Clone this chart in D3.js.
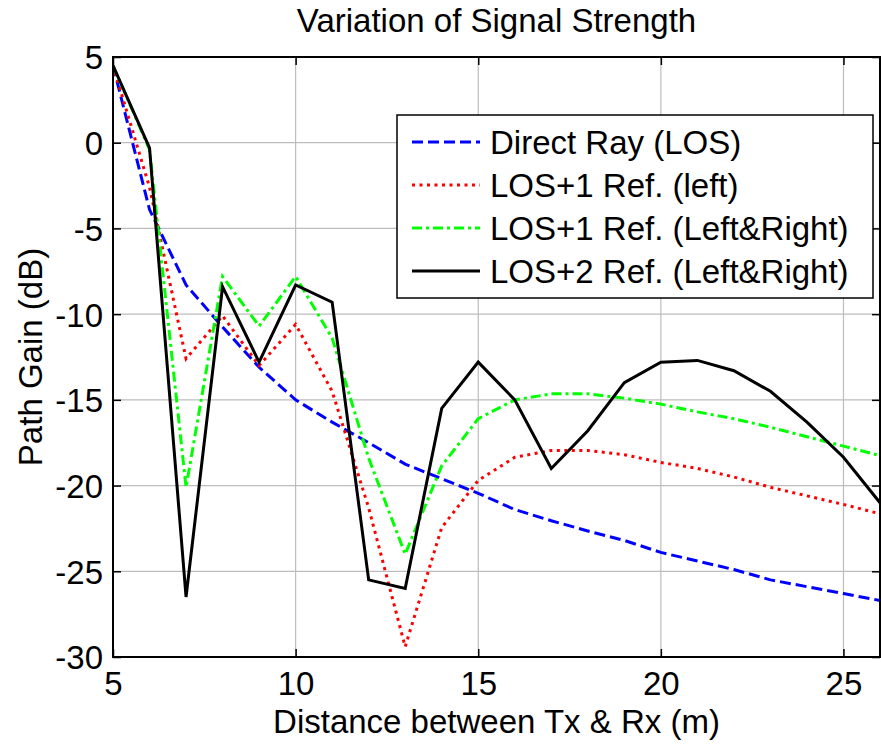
<!DOCTYPE html>
<html>
<head>
<meta charset="utf-8">
<script src="https://cdn.jsdelivr.net/npm/d3@7"></script>
<style>
  body { margin: 0; background: #fff; }
  text { font-family: "Liberation Sans", Arial, sans-serif; fill: #000; }
</style>
</head>
<body>
<div id="chart"></div>
<script>
// distance between Tx and Rx (m)
var distance = [5, 6, 7, 8, 9, 10, 11, 12, 13, 14, 15, 16, 17, 18, 19, 20, 21, 22, 23, 24, 25, 26];

// path gain (dB) for each case
var directRay = [4.5, -3.9, -8.3, -10.75, -13.1, -15.0, -16.3, -17.5, -18.75, -19.6, -20.45, -21.4, -22.05, -22.65, -23.2, -23.9, -24.4, -24.9, -25.5, -25.9, -26.3, -26.7];
var los1Left = [4.5, -2.6, -12.6, -10.1, -13.0, -10.6, -14.5, -21.3, -29.4, -22.45, -19.7, -18.35, -17.95, -17.95, -18.2, -18.65, -19.0, -19.5, -20.1, -20.6, -21.1, -21.65];
var los1LeftRight = [4.5, -0.4, -20.1, -7.8, -10.7, -7.8, -11.4, -18.4, -24.0, -18.85, -16.1, -15.0, -14.65, -14.65, -14.9, -15.25, -15.7, -16.1, -16.6, -17.15, -17.7, -18.25];
var los2LeftRight = [4.5, -0.3, -26.5, -8.4, -12.8, -8.3, -9.3, -25.5, -26.0, -15.5, -12.8, -15.0, -19.0, -16.8, -14.0, -12.8, -12.7, -13.3, -14.5, -16.3, -18.35, -21.0];

var seriesNames = ["Direct Ray (LOS)", "LOS+1 Ref. (left)", "LOS+1 Ref. (Left&Right)", "LOS+2 Ref. (Left&Right)"];
var xTicks = [5, 10, 15, 20, 25];
var yTicks = [5, 0, -5, -10, -15, -20, -25, -30];

var W = 881, H = 745;
var pLeft = 113, pRight = 880, pTop = 57, pBottom = 657;

var series = [
  { name: seriesNames[0], values: directRay, color: "#0000ff", dash: "11,5" },
  { name: seriesNames[1], values: los1Left, color: "#ff0000", dash: "3,4.5" },
  { name: seriesNames[2], values: los1LeftRight, color: "#00ff00", dash: "10,4,3,4" },
  { name: seriesNames[3], values: los2LeftRight, color: "#000000", dash: null }
];

var svg = d3.select("#chart").append("svg")
  .attr("width", W)
  .attr("height", H);

var x = d3.scaleLinear().domain([5, 26]).range([pLeft, pRight]);
var y = d3.scaleLinear().domain([-30, 5]).range([pBottom, pTop]);

// grid
svg.append("g").selectAll("line")
  .data(xTicks.filter(function (d) { return d > 5; }))
  .enter().append("line")
    .attr("x1", function (d) { return x(d); })
    .attr("x2", function (d) { return x(d); })
    .attr("y1", pTop).attr("y2", pBottom)
    .attr("stroke", "#bdbdbd").attr("stroke-width", 1.2);

svg.append("g").selectAll("line")
  .data(yTicks.filter(function (d) { return d > -30 && d < 5; }))
  .enter().append("line")
    .attr("x1", pLeft).attr("x2", pRight)
    .attr("y1", function (d) { return y(d); })
    .attr("y2", function (d) { return y(d); })
    .attr("stroke", "#bdbdbd").attr("stroke-width", 1.2);

svg.append("clipPath").attr("id", "plot-clip")
  .append("rect")
  .attr("x", pLeft).attr("y", pTop)
  .attr("width", pRight - pLeft).attr("height", pBottom - pTop);

var line = d3.line()
  .x(function (d, i) { return x(distance[i]); })
  .y(function (d) { return y(d); });

svg.append("g").attr("clip-path", "url(#plot-clip)")
  .selectAll("path")
  .data(series)
  .enter().append("path")
    .attr("d", function (s) { return line(s.values); })
    .attr("fill", "none")
    .attr("stroke", function (s) { return s.color; })
    .attr("stroke-width", 3)
    .attr("stroke-linejoin", "miter")
    .attr("stroke-dasharray", function (s) { return s.dash; });

// axes, ticks pointing inward on all four sides
var fontSize = "33px";
var plain = function (d) { return String(d); };  // hyphen minus like the original

var xAxis = svg.append("g")
  .attr("transform", "translate(0," + pBottom + ")")
  .call(d3.axisBottom(x).tickValues(xTicks).tickFormat(plain).tickSize(-8));
var yAxis = svg.append("g")
  .attr("transform", "translate(" + pLeft + ",0)")
  .call(d3.axisLeft(y).tickValues(yTicks).tickFormat(plain).tickSize(-8));
var xTop = svg.append("g")
  .attr("transform", "translate(0," + pTop + ")")
  .call(d3.axisTop(x).tickValues(xTicks).tickSize(-8).tickFormat(""));
var yRight = svg.append("g")
  .attr("transform", "translate(" + pRight + ",0)")
  .call(d3.axisRight(y).tickValues(yTicks).tickSize(-8).tickFormat(""));

[xAxis, yAxis, xTop, yRight].forEach(function (a) {
  a.select(".domain").remove();
  a.selectAll(".tick line").attr("stroke", "#000").attr("stroke-width", 1.5);
  a.selectAll("text")
    .style("font-family", "'Liberation Sans', Arial, sans-serif")
    .style("font-size", fontSize)
    .attr("fill", "#000");
});
xAxis.selectAll("text").attr("y", 38).attr("dy", null);
yAxis.selectAll("text").attr("x", -10).attr("dy", "0.36em");

svg.append("rect")
  .attr("x", pLeft).attr("y", pTop)
  .attr("width", pRight - pLeft).attr("height", pBottom - pTop)
  .attr("fill", "none")
  .attr("stroke", "#000")
  .attr("stroke-width", 2);

// title and axis labels
svg.append("text")
  .attr("x", (pLeft + pRight) / 2).attr("y", 32)
  .attr("text-anchor", "middle")
  .style("font-size", fontSize)
  .text("Variation of Signal Strength");

svg.append("text")
  .attr("x", (pLeft + pRight) / 2).attr("y", 733)
  .attr("text-anchor", "middle")
  .style("font-size", fontSize)
  .text("Distance between Tx & Rx (m)");

svg.append("text")
  .attr("transform", "translate(42," + ((pTop + pBottom) / 2) + ") rotate(-90)")
  .attr("text-anchor", "middle")
  .style("font-size", fontSize)
  .text("Path Gain (dB)");

// legend
var legend = svg.append("g");
legend.append("rect")
  .attr("x", 397).attr("y", 115)
  .attr("width", 476).attr("height", 183)
  .attr("fill", "#fff")
  .attr("stroke", "#000")
  .attr("stroke-width", 1.5);

var rows = legend.selectAll("g.row")
  .data(series)
  .enter().append("g")
    .attr("class", "row")
    .attr("transform", function (d, i) { return "translate(0," + (142 + i * 43) + ")"; });

rows.append("line")
  .attr("x1", 412).attr("x2", 480)
  .attr("y1", 0).attr("y2", 0)
  .attr("stroke", function (s) { return s.color; })
  .attr("stroke-width", 3)
  .attr("stroke-dasharray", function (s) { return s.dash; });

rows.append("text")
  .attr("x", 490).attr("y", 0)
  .attr("dy", "0.36em")
  .style("font-size", fontSize)
  .text(function (s) { return s.name; });
</script>
</body>
</html>
